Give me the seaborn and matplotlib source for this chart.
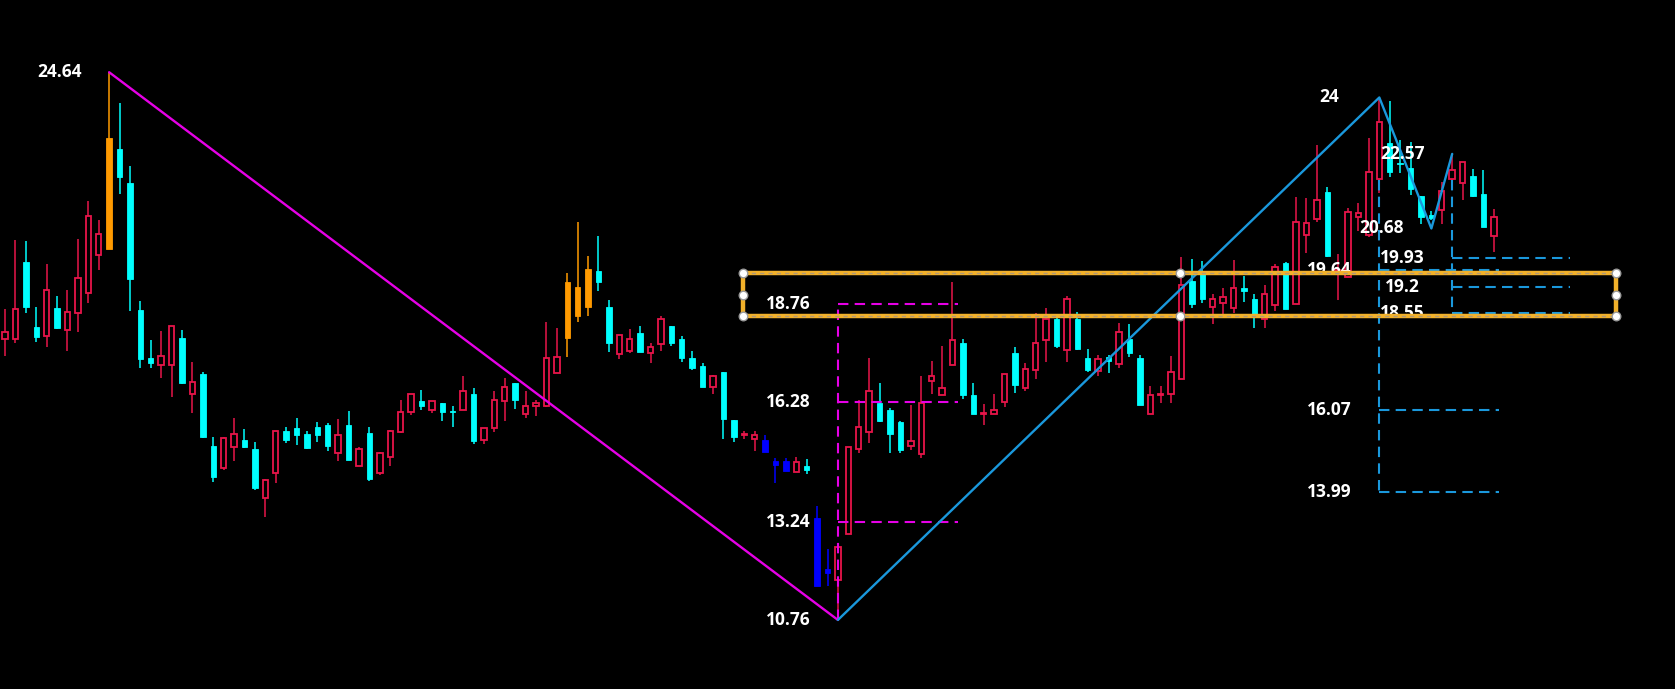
import numpy as np
import pandas as pd
import matplotlib
matplotlib.use("Agg")
import matplotlib.pyplot as plt
import seaborn as sns

# =========================
# 0) data (price units)
# =========================
opens = [17.89, 17.89, 19.84, 18.19, 17.95, 18.66, 18.10, 18.53, 19.04, 20.00,
         20.17, 22.70, 21.83, 18.62, 17.39, 17.22, 17.22, 17.90, 16.48, 16.99,
         15.17, 14.60, 15.14, 15.32, 15.09, 13.84, 14.49, 15.55, 15.62, 15.46,
         15.64, 15.70, 14.99, 15.70, 14.67, 15.49, 14.48, 14.88, 15.52, 16.02,
         16.30, 16.08, 16.25, 16.06, 16.07, 16.48, 15.32, 15.62, 16.31, 16.76,
         15.97, 16.17, 16.17, 17.01, 17.91, 18.45, 18.69, 19.60, 18.70, 17.49,
         17.58, 18.03, 17.53, 17.75, 18.22, 17.87, 17.41, 17.20, 16.67, 17.04,
         15.82, 15.45, 15.34, 15.31, 14.80, 14.78, 14.50, 14.65, 13.35, 12.04,
         11.77, 12.93, 15.09, 15.53, 16.25, 16.08, 15.78, 15.18, 14.96, 16.82,
         16.46, 17.22, 17.77, 16.46, 15.98, 15.99, 16.28, 17.52, 16.65, 17.09,
         17.86, 18.39, 17.60, 18.39, 17.41, 17.08, 17.43, 17.24, 17.88, 17.39,
         15.98, 16.46, 16.48, 16.87, 19.35, 19.60, 18.70, 18.79, 18.66, 19.18,
         18.90, 18.39, 18.74, 19.80, 18.76, 20.51, 20.92, 21.61, 19.61, 19.46,
         20.96, 20.52, 21.93, 22.84, 22.35, 22.21, 21.51, 21.02, 21.15, 21.93,
         21.83, 22.01, 21.56, 20.49]
highs = [18.63, 20.39, 20.37, 18.68, 19.79, 18.97, 19.12, 20.42, 21.37, 20.89,
         24.64, 23.85, 22.26, 18.84, 17.85, 18.08, 18.22, 18.11, 17.30, 17.04,
         15.40, 15.40, 15.88, 15.60, 15.26, 14.33, 15.55, 15.66, 15.88, 15.56,
         15.78, 15.76, 15.86, 16.06, 15.14, 15.65, 15.01, 15.57, 16.34, 16.48,
         16.59, 16.31, 16.25, 16.18, 16.94, 16.64, 15.63, 16.55, 16.88, 16.77,
         16.55, 16.34, 18.31, 18.17, 19.55, 20.85, 19.98, 20.49, 18.87, 17.99,
         18.13, 18.22, 17.77, 18.45, 18.22, 17.96, 17.58, 17.26, 16.97, 17.04,
         15.82, 15.56, 15.55, 15.45, 14.86, 14.86, 14.88, 14.84, 13.65, 12.56,
         12.66, 15.13, 16.34, 17.39, 16.77, 16.13, 15.80, 16.21, 16.94, 17.33,
         17.69, 19.33, 17.87, 16.76, 16.23, 16.48, 16.99, 17.67, 17.26, 18.53,
         18.66, 18.45, 18.97, 18.56, 17.63, 17.48, 17.48, 18.29, 18.25, 17.48,
         16.70, 16.69, 17.45, 19.95, 19.91, 19.86, 19.02, 19.18, 19.88, 19.48,
         19.02, 19.24, 19.77, 19.84, 21.49, 21.45, 22.80, 21.74, 20.04, 21.19,
         21.32, 22.98, 24.00, 23.92, 22.92, 22.86, 21.51, 21.13, 21.87, 22.57,
         22.37, 22.18, 22.15, 21.17]
lows = [17.45, 17.78, 18.53, 17.81, 17.68, 18.14, 17.58, 18.06, 18.79, 19.62,
        20.16, 21.56, 18.60, 17.14, 17.14, 16.88, 16.41, 16.74, 16.00, 15.38,
        14.25, 14.55, 14.80, 15.11, 14.05, 13.38, 14.24, 15.24, 15.20, 15.09,
        15.26, 15.05, 14.79, 14.81, 14.65, 14.29, 14.43, 14.67, 15.49, 15.96,
        16.08, 16.00, 15.79, 15.64, 16.07, 15.21, 15.22, 15.53, 15.81, 16.10,
        15.87, 15.93, 16.15, 17.01, 17.43, 18.32, 18.45, 19.10, 17.56, 17.37,
        17.52, 17.56, 17.28, 17.57, 17.71, 17.30, 17.10, 16.66, 16.49, 15.35,
        15.28, 15.34, 15.04, 15.01, 14.22, 14.54, 14.50, 14.46, 11.63, 11.63,
        10.76, 12.93, 14.99, 15.24, 15.78, 14.99, 15.00, 15.07, 14.87, 16.49,
        16.46, 17.22, 16.36, 15.97, 15.70, 15.99, 16.15, 16.50, 16.56, 16.87,
        17.29, 17.65, 17.29, 17.60, 17.05, 16.93, 17.01, 17.15, 17.43, 16.20,
        15.98, 16.25, 16.25, 16.87, 18.66, 18.80, 18.25, 18.49, 18.53, 18.81,
        18.17, 18.17, 18.60, 18.63, 18.76, 20.07, 20.85, 19.97, 18.87, 19.45,
        20.62, 20.47, 21.57, 21.99, 22.08, 21.53, 20.79, 20.89, 20.79, 21.89,
        21.40, 21.49, 20.73, 20.09]
closes = [18.06, 18.64, 18.69, 17.94, 19.12, 18.16, 18.57, 19.42, 20.99, 20.54,
          22.97, 21.99, 19.40, 17.36, 17.26, 17.46, 18.21, 16.77, 16.78, 15.40,
          14.37, 15.38, 15.48, 15.14, 14.10, 14.30, 15.55, 15.32, 15.44, 15.11,
          15.44, 15.17, 15.45, 14.81, 15.09, 14.32, 14.99, 15.55, 16.04, 16.48,
          16.19, 16.31, 16.03, 16.02, 16.57, 15.30, 15.63, 16.34, 16.66, 16.34,
          16.17, 16.25, 17.39, 17.43, 19.32, 19.19, 19.65, 19.33, 17.77, 17.99,
          17.89, 17.56, 17.67, 18.38, 17.79, 17.39, 17.14, 16.67, 16.93, 15.86,
          15.40, 15.47, 15.44, 15.01, 14.68, 14.54, 14.76, 14.55, 11.63, 11.96,
          12.60, 15.13, 15.66, 16.55, 15.79, 15.47, 15.07, 15.30, 16.27, 16.95,
          16.64, 17.86, 16.46, 15.97, 16.00, 16.09, 16.99, 16.71, 17.11, 17.77,
          18.39, 17.69, 18.89, 17.63, 17.10, 17.38, 17.31, 18.06, 17.52, 16.20,
          16.46, 16.48, 17.05, 19.25, 18.77, 18.89, 18.89, 18.95, 19.17, 19.10,
          18.46, 19.02, 19.71, 18.63, 20.85, 20.81, 21.40, 19.99, 19.63, 21.11,
          21.08, 22.12, 23.37, 22.10, 22.32, 21.68, 20.96, 20.94, 21.63, 22.17,
          22.36, 21.51, 20.73, 20.97]
orange_idx = [10, 54, 55, 56]
blue_idx = [73, 74, 75, 78, 79]

# swing lines
swing_a_x = [10, 80]
swing_a_y = [24.64, 10.76]
zigzag_x = [80, 132, 137, 139]
zigzag_y = [10.76, 24.00, 20.68, 22.57]

# level sets
mag_levels = [18.76, 16.28, 13.24]
blue_levels_a = [19.64, 16.07, 13.99]
blue_levels_b = [19.93, 19.2, 18.55]
box_top, box_bot = 19.55, 18.45

labels = [("24.64", 10, 24.64), ("10.76", 80, 10.76), ("18.76", 80, 18.76),
          ("16.28", 80, 16.28), ("13.24", 80, 13.24), ("24", 132, 24.00),
          ("19.64", 132, 19.64), ("16.07", 132, 16.07), ("13.99", 132, 13.99),
          ("20.68", 137, 20.68), ("22.57", 139, 22.57), ("19.93", 139, 19.93),
          ("19.2", 139, 19.2), ("18.55", 139, 18.55)]

df = pd.DataFrame({"o": opens, "h": highs, "l": lows, "c": closes})
df["i"] = np.arange(len(df))

RED = "#e8154a"
CYAN = "#00ffff"
ORANGE = "#ff9a00"
BLUE = "#0000ff"
MAGENTA = "#e600e6"
SKY = "#1a98dc"
GOLD = "#f2b12a"

sns.set_theme(style="dark", rc={"axes.facecolor": "black", "figure.facecolor": "black",
                                "axes.grid": False})
plt.rcParams["font.family"] = ["Open Sans", "DejaVu Sans"]

fig = plt.figure(figsize=(16.75, 6.89), dpi=100)
ax = fig.add_axes([0, 0, 1, 1])
ax.set_facecolor("black")

# -------------------------
# candles
# -------------------------
W = 0.52
for _, r in df.iterrows():
    i = int(r["i"])
    lo_b, hi_b = min(r["o"], r["c"]), max(r["o"], r["c"])
    hgt = max(hi_b - lo_b, 0.03)
    if i in orange_idx:
        col, fill = ORANGE, True
    elif i in blue_idx:
        col, fill = BLUE, True
    elif r["c"] >= r["o"]:
        col, fill = RED, False
    else:
        col, fill = CYAN, True
    ax.vlines(i, r["l"], r["h"], color=col, lw=1.1, zorder=2)
    if fill:
        ax.bar(i, hgt, bottom=lo_b, width=W, color=col, edgecolor=col, lw=0.6, zorder=3)
    else:
        ax.bar(i, hgt, bottom=lo_b, width=W, facecolor="black", edgecolor=col, lw=1.3, zorder=3)

# -------------------------
# swing lines
# -------------------------
sns.lineplot(x=swing_a_x, y=swing_a_y, ax=ax, color=MAGENTA, lw=1.7, zorder=5)
sns.lineplot(x=zigzag_x, y=zigzag_y, ax=ax, color=SKY, lw=1.7, zorder=5)

dash = (5, 3)
# magenta projection
ax.plot([80, 80], [10.76, mag_levels[0]], color=MAGENTA, lw=1.5, dashes=dash, zorder=4)
for lv in mag_levels:
    ax.plot([80, 91.5], [lv, lv], color=MAGENTA, lw=1.5, dashes=dash, zorder=4)

# blue projections
ax.plot([132, 132], [21.9, blue_levels_a[-1]], color=SKY, lw=1.5, dashes=dash, zorder=4)
for lv in blue_levels_a:
    ax.plot([132, 143.5], [lv, lv], color=SKY, lw=1.5, dashes=dash, zorder=4)
ax.plot([139, 139], [21.9, blue_levels_b[-1]], color=SKY, lw=1.5, dashes=dash, zorder=4)
for lv in blue_levels_b:
    ax.plot([139, 150.3], [lv, lv], color=SKY, lw=1.5, dashes=dash, zorder=4)

# labels
for txt, xi, yv in labels:
    ax.text(xi - 4.8, yv, txt, color="white", fontsize=12.5, fontweight="bold",
            ha="center", va="center", zorder=6)

# -------------------------
# yellow box
# -------------------------
bx0, bx1, bxm = 70.9, 154.7, 112.9
for lv in (box_top, box_bot):
    ax.plot([bx0, bx1], [lv, lv], color=GOLD, lw=3.2, zorder=7, solid_capstyle="butt")
    ax.plot([bx0, bx1], [lv, lv], color="#b09a78", lw=1.0, dashes=(3, 3), zorder=8)
for xv in (bx0, bx1):
    ax.plot([xv, xv], [box_bot, box_top], color=GOLD, lw=3.2, zorder=7)
mid = (box_top + box_bot) / 2
hx = [bx0, bx0, bx0, bxm, bxm, bx1, bx1, bx1]
hy = [box_top, mid, box_bot, box_top, box_bot, box_top, mid, box_bot]
sns.scatterplot(x=hx, y=hy, ax=ax, s=38, color="white", edgecolor="#9a9a9a",
                linewidth=1.0, zorder=9)

ax.set_xlim(-0.48, 160.4)
ax.set_ylim(9.01, 26.47)
ax.set_xticks([])
ax.set_yticks([])
for s in ax.spines.values():
    s.set_visible(False)

fig.savefig("out.png", dpi=100, facecolor="black")
